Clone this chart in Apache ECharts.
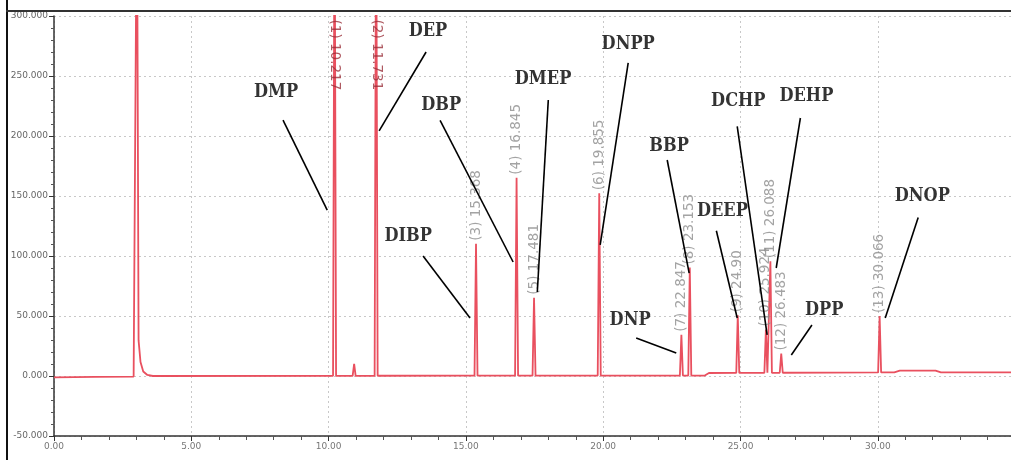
<!DOCTYPE html>
<html>
<head>
<meta charset="utf-8">
<script src="https://cdn.jsdelivr.net/npm/echarts@6/dist/echarts.min.js"></script>
<style>
html,body{margin:0;padding:0;background:#fff;}
#chart{width:1011px;height:460px;}
</style>
</head>
<body>
<div id="chart"></div>
<script>
// ---- data ----
const peakTimes   = [3.02, 10.217, 10.93, 11.731, 15.368, 16.845, 17.481, 19.855, 22.847, 23.153, 24.90, 25.924, 26.088, 26.483, 30.066];
const peakHeights = [420000, 420000, 10000, 420000, 110000, 165000, 65000, 152000, 34000, 90000, 48000, 36000, 93000, 16000, 47000];
const peakLabels  = [null, "(1) 10.217", null, "(2) 11.731", "(3) 15.368", "(4) 16.845", "(5) 17.481", "(6) 19.855",
                     "(7) 22.847", "(8) 23.153", "(9) 24.90", "(10) 25.924", "(11) 26.088", "(12) 26.483", "(13) 30.066"];
const solventTail = [[3.08, 30000], [3.15, 12000], [3.25, 4000], [3.4, 1000]];
const baseTimes   = [0, 1.5, 2.9, 3.6, 12, 23.7, 23.85, 30.6, 30.8, 32.1, 32.3, 34.85];
const baseValues  = [-1200, -800, -500, 0, 200, 400, 2500, 3000, 4500, 4500, 3000, 3000];
const compoundNames = ["DMP", "DEP", "DBP", "DMEP", "DNPP", "DIBP", "BBP", "DNP", "DEEP", "DCHP", "DEHP", "DPP", "DNOP"];
const xTicks = [0, 5, 10, 15, 20, 25, 30];
const yTicks = [-50000, 0, 50000, 100000, 150000, 200000, 250000, 300000];

// ---- annotation layout (data coordinates: text anchor, leader start, leader end) ----
const annoLayout = [
  [[8.09, 236700], [8.34, 213300], [9.95, 138300]],
  [[13.62, 287500], [13.55, 270000], [11.84, 204200]],
  [[14.10, 225800], [14.06, 213000], [16.72, 95000]],
  [[17.81, 247500], [18.0, 230000], [17.6, 70000]],
  [[20.91, 276000], [20.91, 261000], [19.89, 109200]],
  [[12.90, 116700], [13.44, 100000], [15.15, 48300]],
  [[22.40, 191700], [22.33, 180000], [23.13, 85800]],
  [[20.98, 46700], [21.2, 31700], [22.66, 19200]],
  [[24.34, 137500], [24.12, 121000], [24.88, 48300]],
  [[24.92, 229200], [24.88, 208000], [25.97, 34200]],
  [[27.40, 233000], [27.18, 215000], [26.3, 90000]],
  [[28.05, 55000], [27.6, 42500], [26.85, 17500]],
  [[31.62, 150000], [31.47, 132000], [30.27, 48300]]
];

function baseAt(t) {
  for (let i = 0; i < baseTimes.length - 1; i++) {
    if (t >= baseTimes[i] && t <= baseTimes[i + 1]) {
      const f = (t - baseTimes[i]) / (baseTimes[i + 1] - baseTimes[i]);
      return baseValues[i] + f * (baseValues[i + 1] - baseValues[i]);
    }
  }
  return baseValues[baseValues.length - 1];
}

// build trace
const pts = baseTimes.map((t, i) => [t, baseValues[i]]);
const hw = 0.055;
peakTimes.forEach((t, i) => {
  const b = baseAt(t);
  pts.push([t - hw, baseAt(t - hw)]);
  pts.push([t, b + peakHeights[i]]);
  if (i === 0) {
    solventTail.forEach(p => pts.push([p[0], baseAt(p[0]) + p[1]]));
  } else {
    pts.push([t + hw, baseAt(t + hw)]);
  }
});
const trace = pts.filter(p => {
  const isBase = baseTimes.includes(p[0]);
  if (!isBase) return true;
  return !peakTimes.some((t, i) => p[0] > t - hw && p[0] < (i === 0 ? 3.4 : t + hw));
}).sort((a, b) => a[0] - b[0]);

// peak labels
const yMax = 300000;
const labelData = [];
peakTimes.forEach((t, i) => {
  if (!peakLabels[i]) return;
  const off = peakHeights[i] > yMax;
  labelData.push({
    value: off ? [t, 297000] : [t, baseAt(t) + peakHeights[i]],
    label: off
      ? {rotate: -90, align: 'left', verticalAlign: 'middle', color: '#9a2f3a', position: 'inside'}
      : {rotate: 90, align: 'left', verticalAlign: 'middle', color: '#8c8c8c', position: 'top', distance: 3},
    name: peakLabels[i]
  });
});

const annoText = compoundNames.map((n, i) => ({name: n, value: annoLayout[i][0]}));
const annoLines = compoundNames.map((n, i) => ({coords: [annoLayout[i][1], annoLayout[i][2]]}));

const chart = echarts.init(document.getElementById('chart'), null, {renderer: 'canvas'});
const option = {
  backgroundColor: '#fff',
  animation: false,
  grid: {left: 54, right: 0, top: 16, bottom: 24, containLabel: false},
  xAxis: {
    type: 'value', min: 0, max: 34.85, interval: 5,
    axisLine: {onZero: false, lineStyle: {color: '#333', width: 1.5}},
    axisTick: {show: true, length: 5, lineStyle: {color: '#333'}},
    minorTick: {show: true, splitNumber: 5, length: 4, lineStyle: {color: '#555'}},
    axisLabel: {show: true, fontSize: 9, color: '#777', fontFamily: 'DejaVu Sans', margin: 6,
      showMaxLabel: false, formatter: v => xTicks.includes(v) ? v.toFixed(2) : ''},
    splitLine: {show: true, lineStyle: {color: '#c8c8c8', type: [2, 3], width: 1}}
  },
  yAxis: {
    type: 'value', min: -50000, max: yMax, interval: 50000,
    axisLine: {show: true, onZero: false, lineStyle: {color: '#333', width: 1.5}},
    axisTick: {show: true, length: 5, lineStyle: {color: '#333'}},
    minorTick: {show: true, splitNumber: 5, length: 3, lineStyle: {color: '#555'}},
    axisLabel: {fontSize: 9, color: '#666', fontFamily: 'DejaVu Sans', margin: 6,
      formatter: v => yTicks.includes(v) ? (v < 0 ? '-' : '') + (Math.abs(v) / 1000).toFixed(0) + '.000' : ''},
    splitLine: {show: true, lineStyle: {color: '#c8c8c8', type: [2, 3], width: 1}}
  },
  series: [
    {
      type: 'line', data: trace, symbol: 'none', clip: true,
      lineStyle: {color: '#e9505f', width: 1.8},
      z: 3
    },
    {
      type: 'scatter', data: labelData, symbolSize: 0, z: 4,
      label: {show: true, formatter: p => p.name, fontSize: 13.5, fontFamily: 'DejaVu Sans'}
    },
    {
      type: 'lines', coordinateSystem: 'cartesian2d', data: annoLines, z: 5,
      lineStyle: {color: '#000', width: 1.6, opacity: 1}, symbol: 'none'
    },
    {
      type: 'scatter', data: annoText, symbolSize: 0, z: 6,
      label: {show: true, position: 'inside', formatter: p => p.name, color: '#000',
        textBorderWidth: 0, fontSize: 18, fontWeight: 'bold', fontFamily: 'DejaVu Serif Condensed'}
    }
  ],
  graphic: [
    {type: 'rect', left: 6, top: 0, shape: {width: 2, height: 460}, style: {fill: '#111'}, z: 100},
    {type: 'rect', left: 6, top: 10, shape: {width: 1005, height: 2}, style: {fill: '#333'}, z: 100}
  ]
};
chart.setOption(option);
</script>
</body>
</html>
